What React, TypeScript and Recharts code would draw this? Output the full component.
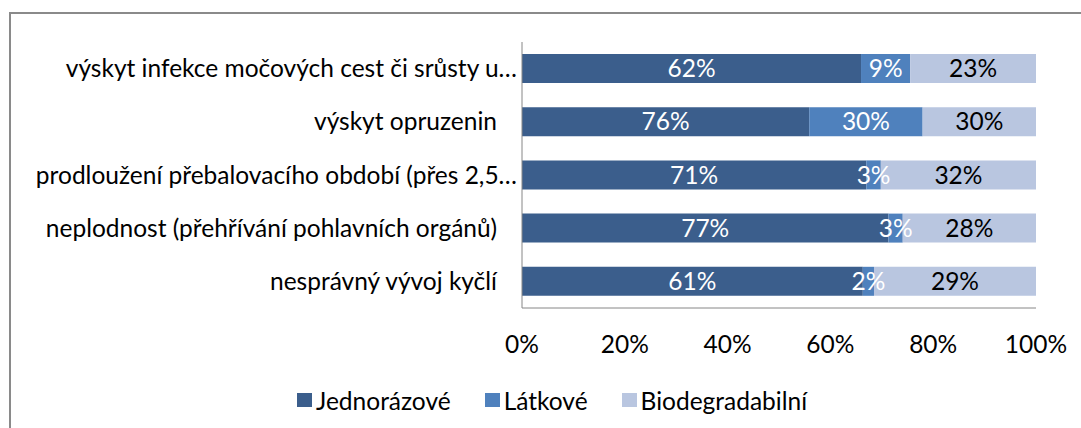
import React from "react";
import { BarChart, Bar, XAxis, YAxis, Legend, LabelList } from "recharts";

const categories = [
  "výskyt infekce močových cest či srůsty u…",
  "výskyt opruzenin",
  "prodloužení přebalovacího období (přes 2,5…",
  "neplodnost (přehřívání pohlavních orgánů)",
  "nesprávný vývoj kyčlí",
];
const jednorazove = [62, 76, 71, 77, 61];
const latkove = [9, 30, 3, 3, 2];
const biodegradabilni = [23, 30, 32, 28, 29];
const xTicks = [0, 0.2, 0.4, 0.6, 0.8, 1];
const xTickLabels = ["0%", "20%", "40%", "60%", "80%", "100%"];

const seriesNames = ["Jednorázové", "Látkové", "Biodegradabilní"];
const seriesColors = ["#3B5E8C", "#4F81BD", "#B9C6E0"];
const labelColors = ["#FFFFFF", "#FFFFFF", "#000000"];
const seriesValues = [jednorazove, latkove, biodegradabilni];
const seriesKeys = ["a", "b", "c"];

const data = categories.map((name, i) => ({
  name,
  a: jednorazove[i],
  b: latkove[i],
  c: biodegradabilni[i],
}));

const FONT = "Lato, 'Open Sans', sans-serif";
const FS = 24.5;

const YTick = (props: any) => {
  const { x, y, payload } = props;
  const v: string = payload.value;
  const dx = v.endsWith("…") ? -5 : -25;
  return (
    <text
      x={x + dx}
      y={y}
      dy="0.355em"
      textAnchor="end"
      fontFamily={FONT}
      fontSize={FS}
      fill="#000"
    >
      {v}
    </text>
  );
};

const makeLabel = (s: number) => (props: any) => {
  const { x, y, width, height, index } = props;
  return (
    <text
      x={x + width / 2}
      y={y + height / 2}
      dy="0.355em"
      textAnchor="middle"
      fontFamily={FONT}
      fontSize={FS}
      fill={labelColors[s]}
    >
      {seriesValues[s][index] + "%"}
    </text>
  );
};

const LegendContent = () => (
  <div style={{ position: "relative", height: 60, width: 1081 }}>
    <div
      style={{
        position: "absolute",
        top: 20,
        left: 297,
        height: 24,
        display: "flex",
        alignItems: "center",
        fontFamily: FONT,
        fontSize: FS,
        color: "#000",
        whiteSpace: "nowrap",
      }}
    >
      {seriesNames.map((n, i) => (
        <div
          key={n}
          style={{ display: "flex", alignItems: "center", marginRight: 34 }}
        >
          <div
            style={{
              width: 15,
              height: 14,
              background: seriesColors[i],
              marginRight: 4,
            }}
          />
          <span>{n}</span>
        </div>
      ))}
    </div>
  </div>
);

export default function App() {
  return (
    <div
      style={{
        position: "absolute",
        left: 0,
        top: 0,
        width: 1081,
        height: 428,
        background: "#fff",
        overflow: "hidden",
      }}
    >
      <div
        style={{
          position: "absolute",
          left: 9,
          top: 12,
          width: 1200,
          height: 500,
          borderTop: "2px solid #8a8a8a",
          borderLeft: "2px solid #8a8a8a",
          boxSizing: "border-box",
        }}
      />
      <div style={{ position: "absolute", left: 0, top: 0 }}>
        <BarChart
          width={1081}
          height={428}
          data={data}
          layout="vertical"
          stackOffset="expand"
          barSize={29}
          margin={{ top: 42, right: 45, bottom: 0, left: 0 }}
        >
          <XAxis
            type="number"
            domain={[0, 1]}
            ticks={xTicks}
            tickFormatter={(v: number) => xTickLabels[xTicks.indexOf(v)] ?? ""}
            height={60}
            tickLine={false}
            tickSize={0}
            tickMargin={28}
            axisLine={{ stroke: "#868686", strokeWidth: 1 }}
            tick={{ fontFamily: FONT, fontSize: FS, fill: "#000" }}
            interval={0}
          />
          <YAxis
            type="category"
            dataKey="name"
            width={522}
            tickLine={false}
            tickSize={0}
            tickMargin={0}
            axisLine={{ stroke: "#868686", strokeWidth: 1 }}
            tick={<YTick />}
            interval={0}
          />
          <Legend
            verticalAlign="bottom"
            height={60}
            content={<LegendContent />}
            wrapperStyle={{ left: 0, width: 1081, height: 60 }}
          />
          {seriesKeys.map((k, s) => (
            <Bar
              key={k}
              dataKey={k}
              name={seriesNames[s]}
              stackId="s"
              fill={seriesColors[s]}
              isAnimationActive={false}
            >
              <LabelList dataKey={k} content={makeLabel(s)} />
            </Bar>
          ))}
        </BarChart>
      </div>
    </div>
  );
}
